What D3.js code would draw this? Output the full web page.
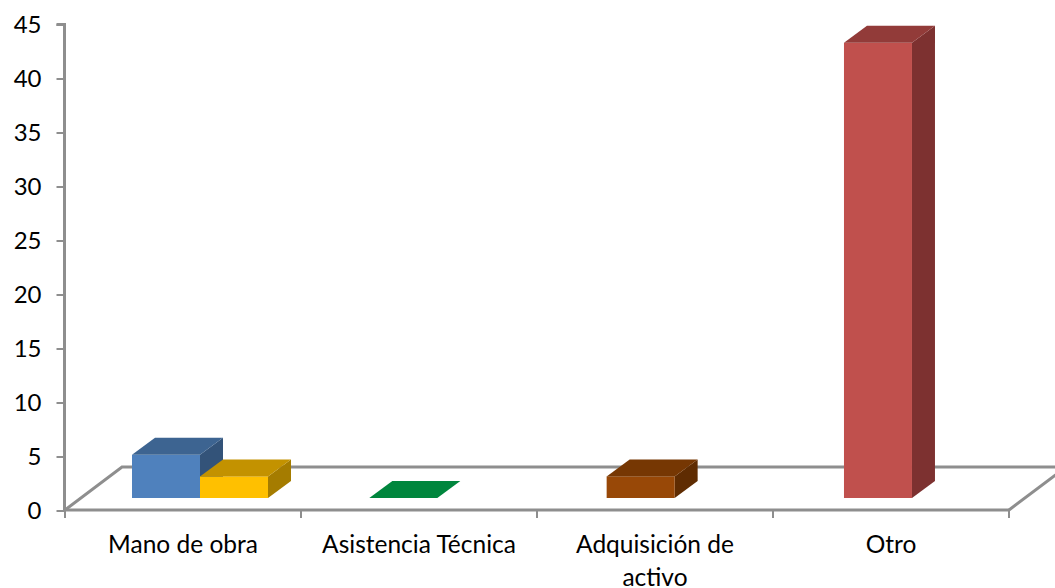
<!DOCTYPE html>
<html><head><meta charset="utf-8">
<script src="https://cdn.jsdelivr.net/npm/d3@7/dist/d3.min.js"></script>
<style>html,body{margin:0;padding:0;background:#fff;overflow:hidden}svg{display:block}text{font-family:Lato,"Open Sans",sans-serif;fill:#000}</style>
</head><body><svg id="c" width="1055" height="588"></svg>
<script>
const categories = ["Mano de obra","Asistencia Técnica","Adquisición de activo","Otro"];
const yTicks = [0,5,10,15,20,25,30,35,40,45];
const seriesFirst = [4,0,2,42.15];
const seriesSecond = [2,null,null,null];
const firstColors = [
  {front:"#4F81BD",top:"#3D6491",side:"#335379"},
  {front:"#00863D",top:"#00863D",side:"#00863D"},
  {front:"#984807",top:"#763703",side:"#5F2C02"},
  {front:"#C0504D",top:"#923B39",side:"#7D3130"}];
const secondColors = [{front:"#FFC000",top:"#C39200",side:"#A57C00"},null,null,null];

const svg = d3.select("#c");
const axisCol = "#8E8E8E";
const y = d3.scaleLinear().domain([0,45]).range([510,24]);
const xAxisScale = d3.scaleBand().domain(categories).range([65,1009]);
const xBars = d3.scaleBand().domain(categories).range([65,1014.3]);
const slot = d3.scaleBand().domain([0,1]).range([67,203]);
const floorLift = 12, dx = 23, dy = 17;
const wallDx = 57, wallDy = 43;

// floor
const floor = [[65,510],[65+wallDx,510-wallDy],[1009+wallDx,510-wallDy],[1009,510]];
svg.append("path").attr("d",d3.line()(floor)).attr("fill","none")
  .attr("stroke",axisCol).attr("stroke-width",3);

// bars
const bars = [];
categories.forEach((c,i)=>{
  bars.push({c,s:0,v:seriesFirst[i],col:firstColors[i]});
  if(seriesSecond[i]!=null) bars.push({c,s:1,v:seriesSecond[i],col:secondColors[i]});
});
const line = d3.line();
const g = svg.selectAll("g.bar").data(bars).join("g").attr("class","bar");
g.each(function(d){
  const x0 = xBars(d.c)+slot(d.s), x1 = x0+slot.bandwidth();
  const yb = y(0)-floorLift, yt = yb-(y(0)-y(d.v));
  const sel = d3.select(this);
  if(d.v>0){
    sel.append("path").attr("fill",d.col.side).attr("d",line([[x1,yb],[x1+dx,yb-dy],[x1+dx,yt-dy],[x1,yt]])+"Z");
    sel.append("rect").attr("x",x0).attr("y",yt).attr("width",x1-x0).attr("height",yb-yt).attr("fill",d.col.front);
  }
  sel.append("path").attr("fill",d.col.top).attr("d",line([[x0,yt],[x0+dx,yt-dy],[x1+dx,yt-dy],[x1,yt]])+"Z");
});

// axes
const ya = svg.append("g").attr("transform","translate(64.5,0.5)")
  .call(d3.axisLeft(y).tickValues(yTicks).tickSize(8).tickPadding(15).tickSizeOuter(8));
const xa = svg.append("g").attr("transform","translate(0,510)")
  .call(d3.axisBottom(xAxisScale).tickSize(0).tickFormat(""));
[ya,xa].forEach(a=>{a.selectAll("path,line").attr("stroke",axisCol).attr("stroke-width",3);});
ya.selectAll(".tick line").attr("stroke-width",2);
ya.selectAll("text").attr("font-size",24).style("font-family",'Lato,sans-serif');
ya.select(".domain").attr("d","M-8,24H0V510");
xa.select(".domain").attr("d","M65,0H1009");
svg.append("g").selectAll("line").data(categories.concat("end")).join("line")
  .attr("x1",d=>d==="end"?1009:xAxisScale(d)).attr("x2",d=>d==="end"?1009:xAxisScale(d))
  .attr("y1",510).attr("y2",518).attr("stroke",axisCol).attr("stroke-width",2);

// category labels
const xLabels = svg.append("g").selectAll("text").data(categories).join("text")
  .attr("text-anchor","middle").attr("font-size",24.5)
  .attr("x",d=>xAxisScale(d)+xAxisScale.bandwidth()/2).attr("y",553);
xLabels.each(function(d){
  const t=d3.select(this), x=t.attr("x");
  const parts = d==="Adquisición de activo"?["Adquisición de","activo"]:[d];
  parts.forEach((p,i)=>t.append("tspan").attr("x",x).attr("dy",i?33:0).text(p));
});
</script></body></html>
